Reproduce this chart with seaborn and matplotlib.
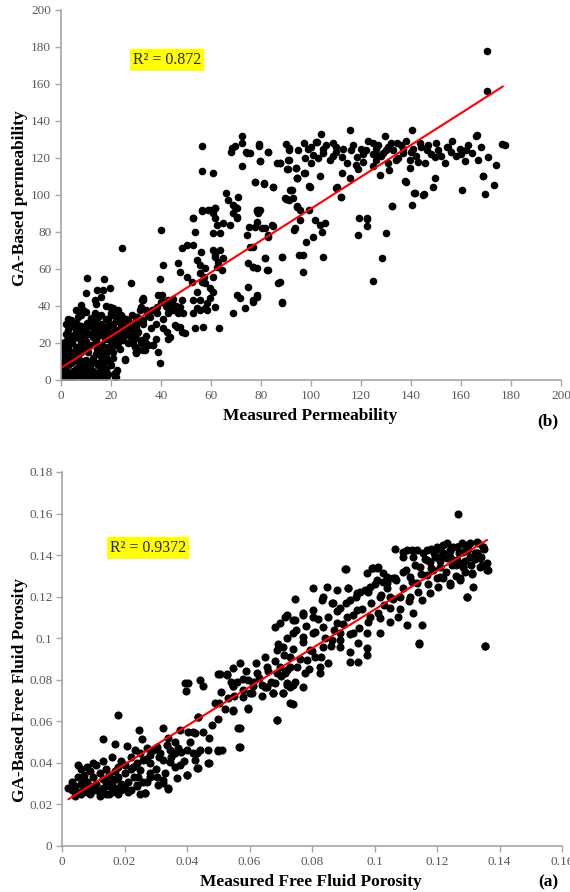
import numpy as np
import pandas as pd
import seaborn as sns
import matplotlib
matplotlib.use('Agg')
import matplotlib.pyplot as plt
from matplotlib.ticker import FuncFormatter

# (measured, GA-based) permeability points
perm_points = [
    (170.5, 177.5), (170.5, 156), (115.7, 135), (140.4, 135), (104, 133), (129.7, 132), (165.9, 132), (166.5, 132.5),
    (90, 127.6), (97.2, 128), (102, 128.8), (108.8, 128), (124.7, 128.3), (134.3, 128), (143.6, 128), (156.3, 129.3),
    (176.3, 127.6), (177.5, 127), (87.6, 117.5), (91, 119), (97.6, 119.8), (101, 121.6), (104.7, 122.9), (107.6, 119),
    (112.3, 120.7), (114.3, 117), (118.3, 120.7), (121, 118), (124.7, 122), (124.7, 115.5), (129, 122.5), (133, 124),
    (137, 122.5), (139.6, 119), (146.3, 124), (149.6, 120.7), (154.3, 126), (159.6, 125), (164.3, 122.5), (167, 119),
    (171, 120.3), (174, 116), (145.6, 117.5), (153.6, 117), (161.6, 118.4), (90.5, 113.9), (94, 114.4), (97.2, 112),
    (103.6, 110), (112.3, 112), (115.6, 109), (127.6, 110.8), (131.3, 113.5), (139.6, 114.4), (94.5, 109), (99.3, 105),
    (110.3, 104), (112, 99), (138, 107), (149.6, 109), (149, 104.5), (141.6, 101), (145.2, 100.5), (160.3, 102.5),
    (168.8, 110), (173.2, 105.4), (169.6, 100.5), (132.4, 94), (140.4, 94.6), (91.6, 102.7), (90, 98), (92.7, 98.2),
    (94.5, 94), (95.6, 92), (99.3, 92), (119.3, 87.4), (122.5, 87.4),
    (105, 125), (110, 126), (116, 124), (120, 125), (126, 125), (131, 126), (136, 127), (141, 125), (147, 127),
    (151, 124), (156, 123), (158, 121), (162, 124), (168, 126), (126, 119), (131, 117), (135, 120), (142, 121),
    (110, 123), (99, 125), (95, 124), (100, 117), (119, 114), (150, 128),
    (100, 126), (103, 120), (106, 127), (109, 121), (113, 125), (117, 127), (118, 116), (122, 124), (123, 129),
    (127, 127), (128, 121), (132, 128), (134, 119), (137, 125), (138, 129), (140, 123), (143, 118), (144, 126),
    (148, 122), (152, 121), (155, 126), (160, 122), (163, 127), (130, 124), (126, 122), (121, 122),
    (79.3, 127.4), (83, 123.4), (79.6, 118.5), (75.6, 122.7), (77.6, 107.2), (81.2, 106.3), (84.7, 104), (78.3, 92),
    (78.8, 91), (77.6, 82.9), (80.3, 82), (84.3, 83.8), (83, 78.4), (75.6, 72), (77, 61.3), (81.6, 65.8), (88.3, 66.7),
    (83, 59.5), (87, 52.3), (78.3, 46), (77, 43.2), (88.3, 41.8), (91.3, 124.3), (90.7, 113.9), (94.3, 109),
    (92.3, 102.7), (89.6, 98.2), (94.3, 93.7), (95.6, 86.5), (93.6, 82), (101.6, 86.5), (103.6, 83.8), (105.6, 84.7),
    (104.3, 80.2), (100.9, 77.5), (98, 74.8), (95.3, 67.6), (97, 67.6), (104.7, 66.7), (97, 58.2), (99.6, 104.5),
    (97.6, 112), (102.3, 128.8), (110, 103.6), (111.9, 99), (122.5, 86.8), (122.3, 83.2), (119, 78.4), (130, 79.6),
    (128.3, 66.1), (124.7, 53.7), (132.3, 94), (141.3, 101.2), (145, 100), (137.6, 107.6), (168.7, 110),
    (24.3, 71.2), (40, 81), (10.3, 55), (17.2, 54.8), (27.9, 52.3), (39.6, 54.6), (40.9, 62.2), (47.6, 58.5),
    (46.9, 63), (48.3, 71.2), (50.3, 73), (53, 73), (53.6, 80.2), (53, 87.4), (56.3, 92), (59.6, 92), (61.6, 92.8),
    (61.6, 87.4), (62.3, 83.8), (61, 79.3), (63.6, 79.3), (65, 84.7), (67.6, 83.8), (69, 94.6), (70.3, 92.8),
    (70.3, 88.3), (74.3, 78.4), (75.3, 82.9), (78.3, 85.6), (79, 92), (81.6, 82), (85, 83.2), (93.2, 81),
    (55.9, 69.4), (61, 70.3), (61.6, 67.6), (63.6, 70.3), (54.3, 64.9), (55.6, 62.2), (57.6, 60.4), (55.6, 57.7),
    (57.2, 55.8), (61.6, 66.6), (62.9, 64), (62.3, 61.2), (64.3, 59.5), (61, 55.8), (65, 65.8), (56.3, 53.2),
    (57.6, 52.3), (59.6, 49.6), (61, 47.7), (50.3, 55.8), (52.3, 53.2), (54.3, 47.7), (55.6, 43.2), (53, 43.2),
    (59.6, 44.2), (58.3, 41.4), (61.6, 39.6), (54.3, 38.7), (55.6, 37.8), (58.3, 37.8), (53, 36), (48.3, 43.2),
    (47.6, 39.6), (48.7, 36), (44.3, 41.4), (42.3, 39.6), (40.9, 42.3), (40.3, 45.9), (38.3, 39.6), (36.3, 37.8),
    (38.3, 36), (34.3, 36), (33, 32.4), (35.6, 34.2), (42.9, 36), (44.9, 37.8), (46.3, 28.8), (45.6, 29.7),
    (47.6, 28.8), (48.3, 26.1), (49.6, 25.2), (40.9, 27.9), (42.3, 26.1), (43.6, 23.4), (42.9, 22), (36.9, 18.9),
    (38.9, 15.3), (39.6, 9), (53.6, 28.3), (56.9, 28.8), (63.3, 27.9), (57.6, 38.7), (69, 36), (70.3, 45.9),
    (71.6, 44.2), (73.6, 38.7), (75, 50.4), (78.3, 45), (77, 42.3), (77, 61.2), (78.3, 60.4), (75, 63),
    (82.3, 59.5), (81.6, 65.8), (87.6, 53.2), (88.3, 42.3), (88.3, 66.7), (83, 77.5), (77, 72),
    (28.9, 27), (30.3, 25.2), (31.6, 37.8), (32.3, 43.2), (33, 44.2), (26.9, 32.4), (28.3, 35.1), (30.3, 34.2),
    (30.9, 31.5), (29.6, 22.5), (28.3, 19.8), (30, 15.3), (33, 16.2), (24.9, 21.6), (25.6, 24.3), (26.3, 26.1),
    (25.6, 11.2), (21.6, 3.6), (22.3, 5.4), (22, 1.8),
    (10.1, 46.9), (14.5, 48.6), (16.8, 48.6), (16.1, 45), (13.5, 43.2), (19.5, 49.5), (8.1, 40.5), (8.8, 37.8),
    (19.5, 39.6), (20.8, 38.7), (20.1, 35.1), (4.1, 32.4), (6.8, 34.2), (5.5, 30.6), (12.1, 33.3), (13.5, 31.5),
    (14.8, 34.2), (22.8, 34.2), (24.8, 33.3), (23.5, 31.5), (32.8, 43.2), (32.1, 39.6), (34.1, 37.8), (30.1, 34.2),
    (17.5, 27), (18.8, 28.8), (20.1, 25.2), (21.5, 27), (25.5, 28.8), (26.8, 27), (27.5, 25.2), (28.8, 20.7),
    (29.5, 18), (32.1, 21.6), (34.1, 19.8), (36.8, 18.9), (30.1, 14.8), (33.5, 16.2), (25.5, 10.8), (22.1, 4.5),
    (21.5, 1.8),
    (0.5, 1), (1, 3), (1.5, 0.5), (2, 5), (2.5, 2), (3, 8), (3, 12), (3.5, 0.5), (4, 4), (4, 15), (4.5, 20), (5, 1),
    (5, 10), (5.5, 25), (6, 6), (6, 18), (6.5, 30), (7, 2), (7, 13), (7.5, 22), (8, 8), (8, 35), (8.5, 0.5), (9, 17),
    (9, 27), (9.5, 4), (10, 11), (10, 21), (10.5, 31), (11, 1), (11, 15), (11.5, 7), (12, 25), (12, 19), (12.5, 3),
    (13, 12), (13, 28), (13.5, 36), (14, 9), (14, 21), (14.5, 16), (15, 1), (15, 24), (15.5, 5), (16, 13), (16, 30),
    (16.5, 19), (17, 8), (17, 26), (17.5, 22), (18, 14), (18, 33), (18.5, 2), (19, 18), (19, 29), (19.5, 11),
    (20, 21), (20, 25), (21, 15), (21, 30), (21.5, 23), (22, 19), (22, 27), (23, 24), (23.5, 17), (24, 29), (25, 22),
    (25.5, 31), (26, 26), (27, 20), (28, 23), (29, 25), (1, 9), (2, 14), (2, 21), (3, 27), (1, 17), (0.5, 6),
    (5, 14), (6, 11), (7, 26), (9, 6), (10, 3), (12, 0.5), (13, 5), (14, 3), (16, 4), (17, 0.5), (18, 6), (20, 8),
    (21, 12), (19, 3), (8, 20), (11, 25), (15, 18), (12, 33), (10, 37), (14, 41), (6, 38), (4, 29), (3, 33),
    (2, 30), (16, 35), (18, 40), (20, 36), (22, 32), (24, 35), (26, 33), (28, 30), (30, 28), (31, 26),
    (1, 1), (2, 0.5), (3, 3), (4, 1), (5, 5), (6, 2), (7, 7), (8, 3), (9, 10), (10, 7), (11, 4), (12, 9), (13, 1),
    (14, 14), (15, 8), (16, 10), (17, 15), (18, 10), (19, 22), (20, 16), (21, 20), (22, 23), (23, 20), (24, 25),
    (25, 27), (4, 9), (6, 14), (8, 15), (3, 18), (5, 22), (7, 17), (9, 23), (11, 19), (13, 23), (15, 28), (17, 29),
    (19, 33), (21, 35), (23, 38), (10, 28), (12, 30), (14, 26), (16, 25), (18, 24), (2, 11), (1, 13), (0.5, 20),
    (2, 25), (4, 24), (6, 27), (8, 29), (10, 16),
    (27, 26), (30, 32), (33, 30), (35, 35), (37, 38), (38, 30), (40, 42), (42, 40), (44, 38), (36, 28), (34, 24),
    (32, 20), (31, 16), (35, 19), (38, 22), (41, 33), (43, 43), (45, 44), (46, 40), (47, 36), (39, 46), (30, 15),
    (56.3, 126.6), (56.3, 113), (61, 112), (68.5, 125.6), (69.6, 126.6), (72.3, 127.9), (72.3, 132), (68, 123.2),
    (74, 123.4), (74.5, 122.5), (72.3, 115.8), (79.2, 126.6), (79.6, 118.4), (82.7, 123.2), (86.3, 117.5),
    (87.6, 117), (91.3, 125.2), (91.3, 119), (94, 114.4), (94.3, 109), (77.6, 106.8), (81.3, 106), (85, 104),
    (90.3, 97.8), (92, 102.7), (91.3, 97.3), (66, 100.9), (67, 97.3), (69.6, 93.7), (70.9, 99), (69, 90),
    (70.3, 87.4), (56.5, 91.5), (59, 92), (61.6, 92.8), (61, 90), (78.3, 91.5), (79, 90), (79.6, 92), (53, 87.4),
]

# (measured, GA-based) free fluid porosity points
por_points = [
    (0.1268, 0.160), (0.1295, 0.120), (0.1354, 0.0964), (0.1142, 0.0971), (0.0909, 0.1332), (0.0991, 0.1336),
    (0.1007, 0.1339), (0.0802, 0.1243), (0.0746, 0.1187), (0.1066, 0.1428),
    (0.018, 0.063), (0.013, 0.0515), (0.017, 0.049), (0.0246, 0.0558), (0.0255, 0.0515), (0.0322, 0.0566),
    (0.0207, 0.048), (0.0234, 0.0462), (0.025, 0.0446), (0.0271, 0.047), (0.0282, 0.0438), (0.026, 0.0414),
    (0.0303, 0.0478), (0.0314, 0.0446), (0.0335, 0.0486), (0.0346, 0.0462), (0.0362, 0.0446), (0.0324, 0.0414),
    (0.0346, 0.0406), (0.0362, 0.0382), (0.0378, 0.039), (0.0399, 0.0462), (0.042, 0.0446), (0.0426, 0.0414),
    (0.0399, 0.0342), (0.0431, 0.0374), (0.0468, 0.0462), (0.05, 0.0462), (0.0511, 0.0462), (0.0468, 0.0398),
    (0.0367, 0.0326), (0.034, 0.0273), (0.0324, 0.0302), (0.0303, 0.0334), (0.0282, 0.035), (0.0266, 0.0254),
    (0.0271, 0.0309), (0.025, 0.0366), (0.0228, 0.0382), (0.0244, 0.0334), (0.0378, 0.0558), (0.0404, 0.055),
    (0.0426, 0.0545), (0.0436, 0.0619), (0.0397, 0.0747), (0.0402, 0.0786), (0.0442, 0.0799), (0.0452, 0.077),
    (0.0506, 0.0828), (0.0527, 0.0823), (0.0502, 0.069), (0.0546, 0.0651), (0.0546, 0.077), (0.0564, 0.0566),
    (0.057, 0.0475), (0.0594, 0.0658), (0.0607, 0.0735), (0.058, 0.0802), (0.0596, 0.0799), (0.0639, 0.0775),
    (0.065, 0.0767), (0.0687, 0.0606), (0.0676, 0.0735), (0.0708, 0.0735), (0.073, 0.0687), (0.0719, 0.0775),
    (0.0548, 0.0855), (0.057, 0.0879),
    (0.003, 0.027), (0.003, 0.031), (0.004, 0.029), (0.005, 0.026), (0.005, 0.033), (0.006, 0.030), (0.006, 0.037),
    (0.007, 0.028), (0.007, 0.034), (0.008, 0.026), (0.008, 0.031), (0.009, 0.029), (0.009, 0.036), (0.010, 0.027),
    (0.010, 0.033), (0.011, 0.030), (0.011, 0.039), (0.012, 0.026), (0.012, 0.035), (0.013, 0.028), (0.013, 0.032),
    (0.014, 0.025), (0.014, 0.037), (0.015, 0.029), (0.015, 0.034), (0.016, 0.026), (0.016, 0.031), (0.017, 0.028),
    (0.017, 0.036), (0.018, 0.025), (0.018, 0.033), (0.019, 0.030), (0.019, 0.027), (0.020, 0.035), (0.020, 0.028),
    (0.021, 0.031), (0.022, 0.027), (0.023, 0.033), (0.024, 0.029), (0.005, 0.039), (0.008, 0.038), (0.010, 0.040),
    (0.013, 0.041), (0.016, 0.043), (0.004, 0.024), (0.006, 0.025), (0.009, 0.025), (0.012, 0.024), (0.015, 0.025),
    (0.011, 0.027), (0.014, 0.031), (0.017, 0.032), (0.007, 0.032), (0.002, 0.028), (0.021, 0.026), (0.025, 0.025),
    (0.018, 0.038), (0.019, 0.041), (0.022, 0.037), (0.026, 0.031), (0.028, 0.033),
    (0.0682, 0.1055), (0.0714, 0.1103), (0.0746, 0.1088), (0.0772, 0.1112), (0.0804, 0.1136), (0.0831, 0.1184),
    (0.0863, 0.1168), (0.089, 0.1144), (0.0922, 0.1184), (0.0916, 0.124), (0.0954, 0.1224), (0.0986, 0.1248),
    (0.1007, 0.128), (0.1028, 0.1312), (0.106, 0.1288), (0.1092, 0.132), (0.1114, 0.1296), (0.1124, 0.1392),
    (0.1156, 0.1408), (0.1178, 0.1368), (0.1199, 0.144), (0.122, 0.1448), (0.1242, 0.1424), (0.1263, 0.144),
    (0.1284, 0.1416), (0.1306, 0.1392), (0.1327, 0.1408), (0.1348, 0.144), (0.1343, 0.1352), (0.1364, 0.1328),
    (0.1311, 0.1312), (0.1274, 0.128), (0.1242, 0.1256), (0.1204, 0.1248), (0.1178, 0.1216), (0.1151, 0.1184),
    (0.1151, 0.1064), (0.1124, 0.112), (0.1103, 0.1064), (0.1076, 0.1103), (0.105, 0.1144), (0.1018, 0.1095),
    (0.1018, 0.1023), (0.0986, 0.1103), (0.0975, 0.1023), (0.0948, 0.0975), (0.0975, 0.0951), (0.0975, 0.0919),
    (0.0948, 0.0887), (0.0922, 0.0887), (0.0922, 0.0935), (0.089, 0.0959), (0.089, 0.1023), (0.0863, 0.0991),
    (0.0836, 0.0959), (0.0852, 0.0879), (0.0826, 0.0831), (0.0826, 0.0863), (0.0783, 0.0895), (0.0778, 0.0831),
    (0.0751, 0.0863), (0.073, 0.0911), (0.0708, 0.0959), (0.0687, 0.0943), (0.0687, 0.0831), (0.0714, 0.0831),
    (0.0746, 0.0791), (0.0772, 0.0767), (0.0682, 0.0783), (0.0804, 0.1023), (0.0772, 0.1007), (0.074, 0.1023),
    (0.0836, 0.1055), (0.0879, 0.1071), (0.0911, 0.1103), (0.0943, 0.1136), (0.0932, 0.1023), (0.0879, 0.1232),
    (0.0847, 0.1248), (0.0975, 0.1312), (0.1039, 0.1264), (0.1082, 0.12), (0.1114, 0.12), (0.105, 0.12),
    (0.1018, 0.12), (0.1135, 0.1264), (0.1167, 0.1304), (0.121, 0.1344), (0.1247, 0.1352), (0.1284, 0.1344),
    (0.1306, 0.1457), (0.1146, 0.1344), (0.1092, 0.1392), (0.1103, 0.1424), (0.1231, 0.1384), (0.1263, 0.1376),
    (0.1194, 0.1392), (0.1327, 0.1464), (0.1316, 0.1248), (0.122, 0.1288), (0.0794, 0.0943), (0.081, 0.0911),
    (0.073, 0.0767),
    (0.0394, 0.0783), (0.05, 0.0828), (0.0527, 0.0828), (0.0548, 0.077), (0.0548, 0.0654), (0.0596, 0.0662),
    (0.058, 0.0718), (0.0602, 0.0735), (0.0612, 0.0791), (0.0623, 0.0831), (0.0655, 0.0767), (0.0676, 0.0735),
    (0.0708, 0.0735), (0.0687, 0.0606), (0.0738, 0.0682), (0.0719, 0.0783), (0.074, 0.0775), (0.0698, 0.0863),
    (0.0719, 0.0847), (0.0655, 0.0863), (0.057, 0.0566), (0.0567, 0.0475), (0.05, 0.0459), (0.047, 0.0398),
    (0.0436, 0.0374), (0.0399, 0.0342), (0.0431, 0.0446), (0.034, 0.0278), (0.0308, 0.0294), (0.0324, 0.0318),
    (0.0266, 0.0254), (0.0239, 0.0294), (0.042, 0.055), (0.0436, 0.0622),
    (0.1231, 0.1457), (0.1263, 0.144), (0.1295, 0.1424), (0.1327, 0.1408), (0.1348, 0.144), (0.121, 0.1392),
    (0.1252, 0.1376), (0.1284, 0.1344), (0.1338, 0.1384), (0.1311, 0.1309), (0.1338, 0.1344), (0.1359, 0.1328),
    (0.121, 0.1296), (0.1242, 0.1264), (0.1274, 0.1288), (0.1188, 0.1328), (0.1167, 0.1376), (0.1092, 0.1416),
    (0.1119, 0.1424), (0.1135, 0.1424), (0.1167, 0.1424), (0.0906, 0.1333), (0.0996, 0.1336), (0.1012, 0.1341),
    (0.0836, 0.12), (0.0868, 0.1168), (0.0916, 0.124), (0.0943, 0.1216), (0.098, 0.1224), (0.1039, 0.1296),
    (0.1066, 0.1288), (0.1028, 0.1272), (0.0719, 0.1112), (0.074, 0.1088), (0.0772, 0.112), (0.0804, 0.1103),
    (0.0698, 0.1071), (0.1142, 0.0975), (0.1354, 0.0962), (0.1297, 0.12),
    (0.055, 0.072), (0.056, 0.079), (0.058, 0.075), (0.059, 0.084), (0.061, 0.077), (0.062, 0.088), (0.063, 0.081),
    (0.064, 0.072), (0.065, 0.091), (0.066, 0.084), (0.067, 0.079), (0.068, 0.089), (0.069, 0.097), (0.070, 0.082),
    (0.071, 0.092), (0.072, 0.100), (0.073, 0.086), (0.074, 0.095), (0.075, 0.104), (0.076, 0.090), (0.077, 0.098),
    (0.078, 0.106), (0.079, 0.085), (0.080, 0.094), (0.081, 0.103), (0.082, 0.109), (0.083, 0.091), (0.084, 0.100),
    (0.085, 0.110), (0.086, 0.096), (0.087, 0.104), (0.088, 0.113), (0.089, 0.099), (0.090, 0.107), (0.091, 0.117),
    (0.092, 0.102), (0.093, 0.111), (0.094, 0.120), (0.095, 0.105), (0.096, 0.114), (0.097, 0.123), (0.098, 0.108),
    (0.099, 0.117), (0.100, 0.126), (0.101, 0.112), (0.102, 0.121), (0.103, 0.116), (0.104, 0.124), (0.105, 0.108),
    (0.106, 0.119), (0.107, 0.128), (0.108, 0.114), (0.109, 0.124), (0.110, 0.133), (0.111, 0.118), (0.112, 0.127),
    (0.113, 0.135), (0.114, 0.122), (0.115, 0.131), (0.116, 0.138), (0.117, 0.126), (0.118, 0.134), (0.119, 0.141),
    (0.120, 0.129), (0.121, 0.137), (0.122, 0.141), (0.123, 0.132), (0.124, 0.139), (0.125, 0.144), (0.126, 0.135),
    (0.127, 0.141), (0.128, 0.146), (0.129, 0.137), (0.130, 0.143), (0.131, 0.135), (0.132, 0.141), (0.133, 0.146),
    (0.134, 0.139), (0.135, 0.143), (0.136, 0.136), (0.124, 0.142), (0.127, 0.136), (0.121, 0.143), (0.118, 0.143),
    (0.129, 0.145), (0.132, 0.138), (0.126, 0.130), (0.129, 0.132),
    (0.028, 0.040), (0.030, 0.037), (0.033, 0.035), (0.035, 0.043), (0.037, 0.047), (0.039, 0.041), (0.041, 0.050),
    (0.044, 0.046), (0.045, 0.055), (0.048, 0.058), (0.050, 0.061), (0.052, 0.066), (0.053, 0.071), (0.047, 0.052),
    (0.049, 0.069), (0.051, 0.074), (0.054, 0.079), (0.034, 0.052), (0.036, 0.050), (0.038, 0.045), (0.031, 0.043),
    (0.029, 0.046), (0.027, 0.042), (0.024, 0.040), (0.022, 0.043), (0.020, 0.039),
]

# trend lines as drawn in the figure (end points)
perm_fit_x = [0, 176.8]
perm_fit_y = [6.5, 158.6]
por_fit_x = [0.002, 0.136]
por_fit_y = [0.0225, 0.1473]

perm_r2 = 'R² = 0.872'
por_r2 = 'R² = 0.9372'

perm_ticks = list(range(0, 201, 20))
por_xticks = [0, 0.02, 0.04, 0.06, 0.08, 0.1, 0.12, 0.14, 0.16]
por_yticks = [0, 0.02, 0.04, 0.06, 0.08, 0.1, 0.12, 0.14, 0.16, 0.18]

perm_df = pd.DataFrame(perm_points, columns=['measured', 'ga'])
por_df = pd.DataFrame(por_points, columns=['measured', 'ga'])

sns.set_style('white')
plt.rcParams['font.family'] = ['Liberation Serif', 'DejaVu Serif']

fig = plt.figure(figsize=(5.7, 8.92), dpi=100)
ax1 = fig.add_axes([0.107, 0.574, 0.877, 0.415])
ax2 = fig.add_axes([0.109, 0.0516, 0.877, 0.4193])

axis_grey = '#a6a6a6'
tick_txt = '#595959'


def style_axes(ax):
    for s in ['top', 'right']:
        ax.spines[s].set_visible(False)
    for s in ['left', 'bottom']:
        ax.spines[s].set_color(axis_grey)
        ax.spines[s].set_linewidth(1.2)
    ax.tick_params(direction='out', length=4, width=1, color=axis_grey,
                   labelcolor=tick_txt, labelsize=9.5, left=True, bottom=True, pad=3)
    ax.set_xlabel('')
    ax.set_ylabel('')


# upper panel (b)
sns.scatterplot(data=perm_df, x='measured', y='ga', ax=ax1, color='black', s=30,
                edgecolor='black', linewidth=0, legend=False)
sns.lineplot(x=perm_fit_x, y=perm_fit_y, ax=ax1, color='red', linewidth=1.5)
ax1.set_xlim(0, 200)
ax1.set_ylim(0, 200)
ax1.set_xticks(perm_ticks)
ax1.set_yticks(perm_ticks)
style_axes(ax1)
ax1.text(42.4, 173, perm_r2, ha='center', va='center', fontsize=11.5,
         bbox=dict(facecolor='yellow', edgecolor='none', pad=2))

# lower panel (a)
sns.scatterplot(data=por_df, x='measured', y='ga', ax=ax2, color='black', s=34,
                edgecolor='black', linewidth=0, legend=False)
sns.lineplot(x=por_fit_x, y=por_fit_y, ax=ax2, color='red', linewidth=1.5)
ax2.set_xlim(0, 0.16)
ax2.set_ylim(0, 0.18)
ax2.set_xticks(por_xticks)
ax2.set_yticks(por_yticks)
ax2.xaxis.set_major_formatter(FuncFormatter(lambda v, p: '%g' % round(v, 3)))
ax2.yaxis.set_major_formatter(FuncFormatter(lambda v, p: '%g' % round(v, 3)))
style_axes(ax2)
ax2.text(0.0275, 0.1434, por_r2, ha='center', va='center', fontsize=11.5,
         bbox=dict(facecolor='yellow', edgecolor='none', pad=2))

lab = dict(fontsize=12.5, fontweight='bold', color='black')
fig.text(310 / 570, 1 - 416 / 892, 'Measured Permeability', ha='center', va='center', **lab)
fig.text(548 / 570, 1 - 421 / 892, '(b)', ha='center', va='center', **lab)
fig.text(20 / 570, 1 - 198 / 892, 'GA-Based permeability', ha='center', va='center', rotation=90, **lab)
fig.text(311 / 570, 1 - 882 / 892, 'Measured Free Fluid Porosity', ha='center', va='center', **lab)
fig.text(548 / 570, 1 - 882 / 892, '(a)', ha='center', va='center', **lab)
fig.text(20 / 570, 1 - 690 / 892, 'GA-Based Free Fluid Porosity', ha='center', va='center', rotation=90, **lab)

fig.savefig('out.png', dpi=100)
